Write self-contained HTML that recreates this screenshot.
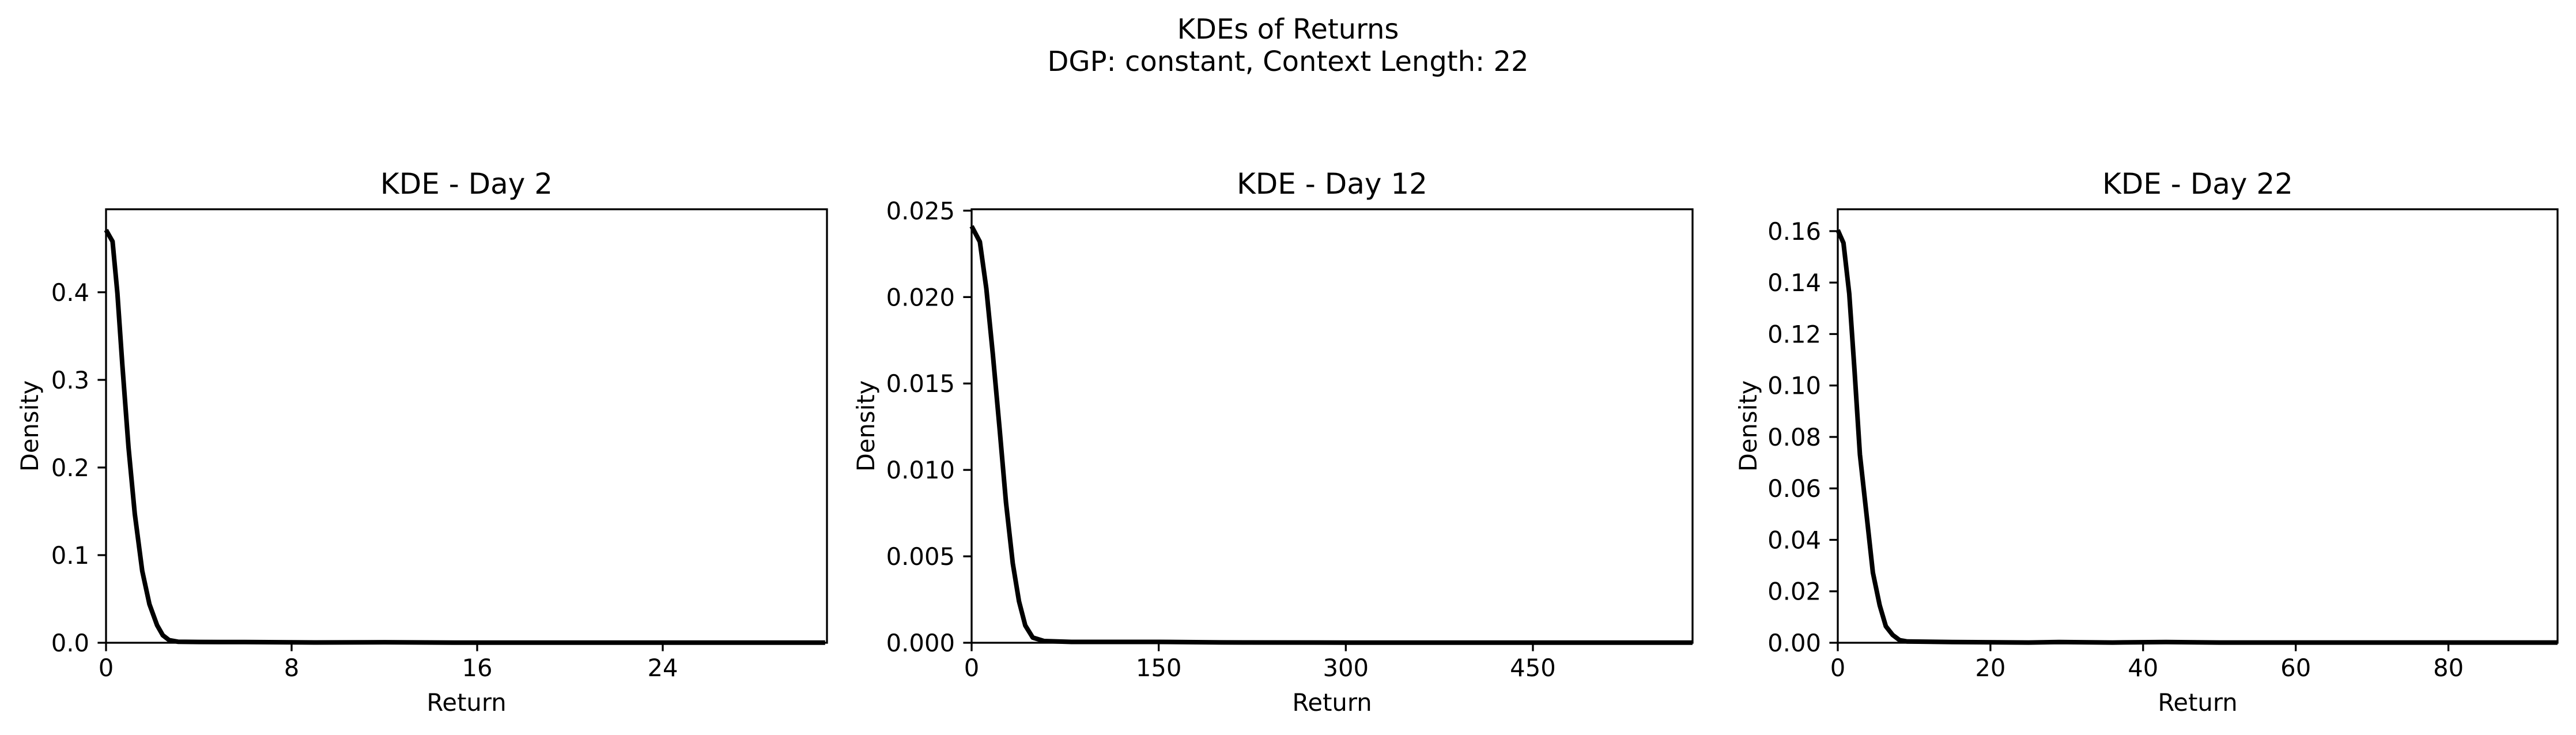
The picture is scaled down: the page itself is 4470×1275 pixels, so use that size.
<!DOCTYPE html>
<html><head><meta charset="utf-8"><style>
html,body{margin:0;padding:0;background:#fff;}
svg{display:block;}
text{font-family:"DejaVu Sans","Liberation Sans",sans-serif;fill:#000;}
</style></head><body>
<svg id="fig" width="4470" height="1275" viewBox="0 0 4470 1275" xmlns="http://www.w3.org/2000/svg">
<rect width="4470" height="1275" fill="#fff"/>
<text x="2235" y="67" font-size="48" text-anchor="middle">KDEs of Returns</text>
<text x="2235" y="123" font-size="48" text-anchor="middle">DGP: constant, Context Length: 22</text>
</svg>
<script>
const day2X = [0,0.28,0.49,0.7,0.97,1.24,1.56,1.87,2.2,2.45,2.72,3.1,4,6,9,12,15,20,31];
const day2Y = [0.471,0.458,0.399,0.318,0.223,0.147,0.082,0.044,0.020,0.0085,0.003,0.0012,0.0009,0.0008,0.0003,0.0006,0.0002,0.0001,0.0001];
const day12X = [0,6.6,11.8,17,22.4,27.6,33,38,43,49,58,80,150,200,300,578];
const day12Y = [0.0241,0.0232,0.0205,0.0167,0.0124,0.0081,0.0046,0.0024,0.001,0.0003,0.0001,0.00005,0.00005,0.00002,0.00001,0.00001];
const day22X = [0,0.75,1.5,2.2,2.9,3.85,4.6,5.5,6.3,7.2,8.1,9.1,15,25,29,36,43,50,94.3];
const day22Y = [0.1604,0.1554,0.1357,0.1057,0.0732,0.0476,0.0273,0.0145,0.0064,0.003,0.001,0.0005,0.0003,0.0001,0.0003,0.0001,0.0003,0.0001,0.0001];
const titles = ["KDE - Day 2","KDE - Day 12","KDE - Day 22"];
const xTicks2 = [0,8,16,24];
const xTicks12 = [0,150,300,450];
const xTicks22 = [0,20,40,60,80];
const yTicks2 = ["0.0","0.1","0.2","0.3","0.4"];
const yTicks12 = ["0.000","0.005","0.010","0.015","0.020","0.025"];
const yTicks22 = ["0.00","0.02","0.04","0.06","0.08","0.10","0.12","0.14","0.16"];

const NS = "http://www.w3.org/2000/svg";
const fig = document.getElementById('fig');
function mk(tag, attrs, parent){const e=document.createElementNS(NS,tag);for(const k in attrs)e.setAttribute(k,attrs[k]);(parent||fig).appendChild(e);return e;}

const panels = [
 {L:184,R:1435,xmax:31.08,ymax:0.4947,xs:day2X,ys:day2Y,xt:xTicks2,yt:yTicks2,yl:51,name:'day2'},
 {L:1686,R:2937,xmax:578,ymax:0.02508,xs:day12X,ys:day12Y,xt:xTicks12,yt:yTicks12,yl:1502,name:'day12'},
 {L:3189,R:4438,xmax:94.3,ymax:0.1685,xs:day22X,ys:day22Y,xt:xTicks22,yt:yTicks22,yl:3033,name:'day22'}
];
const T=363, B=1115;
panels.forEach((p,i)=>{
  const g = mk('g',{});
  
  
  const sx = v => p.L + v/p.xmax*(p.R-p.L);
  const sy = v => B - v/p.ymax*(B-T);
  // curve
  let d = p.xs.map((x,k)=>(k?'L':'M')+sx(x).toFixed(1)+','+sy(p.ys[k]).toFixed(1)).join(' ');
  const path = mk('path',{d:d,fill:'none',stroke:'#000','stroke-width':8,'stroke-linejoin':'round'},g);
  
  
  // frame
  const fr = mk('rect',{x:p.L,y:T,width:p.R-p.L,height:B-T,fill:'none',stroke:'#000','stroke-width':3.3},g);
  
  
  // x ticks
  p.xt.forEach(v=>{
    const x=sx(v);
    mk('line',{x1:x,x2:x,y1:B,y2:B+14.6,stroke:'#000','stroke-width':3.3},g);
    const t=mk('text',{x:x,y:B+58,'font-size':41.7,'text-anchor':'middle'},g);
    t.textContent=v;
    
    
  });
  // y ticks
  p.yt.forEach(s=>{
    const y=sy(parseFloat(s));
    mk('line',{x1:p.L-14.6,x2:p.L,y1:y,y2:y,stroke:'#000','stroke-width':3.3},g);
    const t=mk('text',{x:p.L-29,y:y+15,'font-size':41.7,'text-anchor':'end'},g);
    t.textContent=s;
    
    
  });
  const tt=mk('text',{x:(p.L+p.R)/2,y:336,'font-size':50,'text-anchor':'middle'},g);
  tt.textContent=titles[i];
  
  
  const xl=mk('text',{x:(p.L+p.R)/2,y:1233,'font-size':41.7,'text-anchor':'middle'},g);
  xl.textContent='Return';
  
  
  const yl=mk('text',{x:0,y:0,'font-size':41.7,'text-anchor':'middle',transform:'translate('+(p.yl+15)+','+((T+B)/2)+') rotate(-90)'},g);
  yl.textContent='Density';
  
  
});
</script>
</body></html>
